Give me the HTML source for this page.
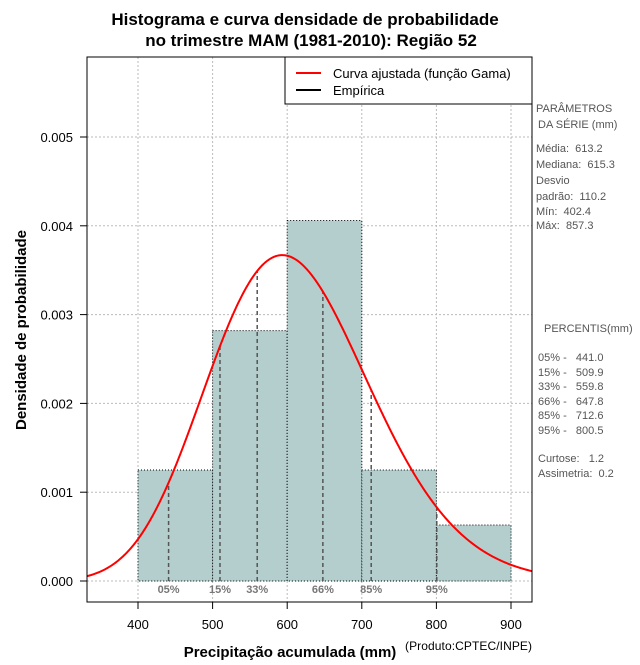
<!DOCTYPE html>
<html><head><meta charset="utf-8"><style>
body{margin:0;background:#fff;}
svg text{font-family:"Liberation Sans",sans-serif;white-space:pre;}
</style></head><body>
<svg id="c" width="640" height="660" xmlns="http://www.w3.org/2000/svg">
<text x="305" y="25" font-size="17" font-weight="bold" text-anchor="middle">Histograma e curva densidade de probabilidade</text>
<text x="311" y="46" font-size="17" font-weight="bold" text-anchor="middle">no trimestre MAM (1981-2010): Região 52</text>
<g id="grid"></g>
<g id="bars"></g>
<g id="pct"></g>
<path id="curve" fill="none" stroke="#ff0000" stroke-width="2"/>
<rect x="87" y="57" width="445" height="545" fill="none" stroke="#000"/>
<g id="axes"></g>
<text transform="translate(26,330) rotate(-90)" font-size="15" font-weight="bold" text-anchor="middle">Densidade de probabilidade</text>
<text x="290" y="657" font-size="15" font-weight="bold" text-anchor="middle">Precipitação acumulada (mm)</text>
<text x="405" y="650" font-size="12" textLength="127">(Produto:CPTEC/INPE)</text>
<g>
<rect x="285" y="57" width="247" height="47" fill="#fff" stroke="#000"/>
<line x1="296" y1="73" x2="321" y2="73" stroke="#ff0000" stroke-width="2"/>
<text x="333" y="78" font-size="13">Curva ajustada (função Gama)</text>
<line x1="296" y1="90" x2="321" y2="90" stroke="#000" stroke-width="2"/>
<text x="333" y="95" font-size="13">Empírica</text>
</g>
<g font-size="11" fill="#555">
<text x="536" y="112">PARÂMETROS</text><text x="538" y="128">DA SÉRIE (mm)</text>
<text x="536" y="152">Média:  613.2</text><text x="536" y="168">Mediana:  615.3</text>
<text x="536" y="184">Desvio</text><text x="536" y="200">padrão:  110.2</text>
<text x="536" y="215">Mín:  402.4</text><text x="536" y="229">Máx:  857.3</text>
<text x="544" y="332">PERCENTIS(mm)</text>
<text x="538" y="361">05% -   441.0</text><text x="538" y="376">15% -   509.9</text>
<text x="538" y="390">33% -   559.8</text><text x="538" y="405">66% -   647.8</text>
<text x="538" y="419">85% -   712.6</text><text x="538" y="434">95% -   800.5</text>
<text x="538" y="462">Curtose:   1.2</text><text x="538" y="477">Assimetria:  0.2</text>
</g>
</svg>
<script>
const binStarts=[400,500,600,700,800];
const binDensity=[0.00125,0.00282,0.00406,0.00125,0.00063];
const pctValues=[441.0,509.9,559.8,647.8,712.6,800.5];
const pctLabels=["05%","15%","33%","66%","85%","95%"];
const xTicks=[400,500,600,700,800,900];
const yTicks=[0,0.001,0.002,0.003,0.004,0.005];
const yTickLabels=["0.000","0.001","0.002","0.003","0.004","0.005"];
const fitMean=[613.2];
const fitSd=[110.2];
const binWidth=100;
const NS="http://www.w3.org/2000/svg";
const X=v=>138+(v-400)*0.746;
const Y=v=>581-v*88800;
const k=(fitMean[0]/fitSd[0])**2, th=fitSd[0]**2/fitMean[0];
function lgamma(z){const g=7,c=[0.99999999999980993,676.5203681218851,-1259.1392167224028,771.32342877765313,-176.61502916214059,12.507343278686905,-0.13857109526572012,9.9843695780195716e-6,1.5056327351493116e-7];z-=1;let a=c[0];const t=z+g+0.5;for(let i=1;i<9;i++)a+=c[i]/(z+i);return 0.5*Math.log(2*Math.PI)+(z+0.5)*Math.log(t)-t+Math.log(a);}
const dens=x=>Math.exp((k-1)*Math.log(x)-x/th-lgamma(k)-k*Math.log(th));
function el(t,a,p){const e=document.createElementNS(NS,t);for(const q in a)e.setAttribute(q,a[q]);(p||document.getElementById('c')).appendChild(e);return e;}
const grid=document.getElementById('grid');
xTicks.forEach(t=>{const l=el('line',{x1:X(t),x2:X(t),y1:57,y2:602,stroke:'#bbb','stroke-dasharray':'2,2'},grid);

});
yTicks.forEach(t=>{const l=el('line',{x1:87,x2:532,y1:Y(t),y2:Y(t),stroke:'#bbb','stroke-dasharray':'2,2'},grid);

});
const bars=document.getElementById('bars');
binStarts.forEach((s,i)=>{const r=el('rect',{x:X(s),y:Y(binDensity[i]),width:X(s+binWidth)-X(s),height:Y(0)-Y(binDensity[i]),fill:'#b4cece',stroke:'#000','stroke-dasharray':'1,2'},bars);

});
const pct=document.getElementById('pct');
pctValues.forEach((v,i)=>{const l=el('line',{x1:X(v),x2:X(v),y1:Y(0),y2:Y(dens(v)),stroke:'#555','stroke-width':1.5,'stroke-dasharray':'4,3'},pct);


const t=el('text',{x:X(v),y:593,'font-size':11,'font-weight':'bold',fill:'#777','text-anchor':'middle'},pct);t.textContent=pctLabels[i];

});
let d='';for(let px=87;px<=532;px+=1){const v=400+(px-138)/0.746;d+=(d?'L':'M')+px+','+Y(dens(v)).toFixed(2);}
document.getElementById('curve').setAttribute('d',d);
const ax=document.getElementById('axes');
xTicks.forEach(t=>{el('line',{x1:X(t),x2:X(t),y1:602,y2:609,stroke:'#000'},ax);
const tx=el('text',{x:X(t),y:629,'font-size':13,'text-anchor':'middle'},ax);tx.textContent=t;

});
yTicks.forEach((t,i)=>{el('line',{x1:80,x2:87,y1:Y(t),y2:Y(t),stroke:'#000'},ax);
const tx=el('text',{x:73,y:Y(t)+5,'font-size':13,'text-anchor':'end'},ax);tx.textContent=yTickLabels[i];

});
</script>
</body></html>
